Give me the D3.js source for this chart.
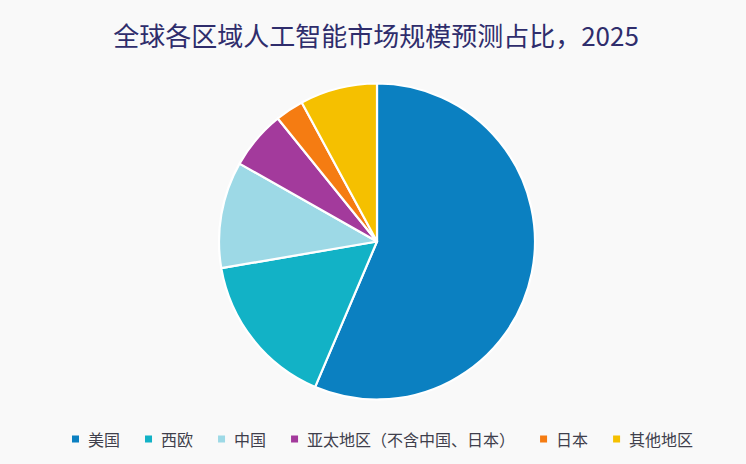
<!DOCTYPE html>
<html><head><meta charset="utf-8">
<script src="https://cdn.jsdelivr.net/npm/d3@7"></script>
<style>
html,body{margin:0;padding:0;background:#f9f9f9;}
svg{display:block;font-family:"Noto Sans CJK SC","Noto Sans",sans-serif;}
</style></head>
<body>
<svg id="c" width="746" height="464"></svg>
<script>
const title = "全球各区域人工智能市场规模预测占比，2025";
const categories = ["美国","西欧","中国","亚太地区（不含中国、日本）","日本","其他地区"];
const values = [56.4, 15.9, 10.9, 6.0, 2.9, 7.9];
const colors = ["#0b80c1","#12b2c6","#9dd9e6","#a33a9c","#f57c12","#f5c000"];

const svg = d3.select("#c");
const W = 746, H = 464;
svg.append("rect").attr("width",W).attr("height",H).attr("fill","#f9f9f9");

svg.append("text").attr("x",376).attr("y",46).attr("text-anchor","middle")
  .attr("font-size",26).attr("fill","#2f2d6c").text(title);

const data = categories.map((c,i)=>({cat:c, v:values[i], color:colors[i]}));
const pie = d3.pie().sort(null).value(d=>d.v);
const arc = d3.arc().innerRadius(0).outerRadius(158);
const g = svg.append("g").attr("transform","translate(377,241.5)");
g.selectAll("path").data(pie(data)).join("path")
  .attr("d",arc).attr("fill",d=>d.data.color)
  .attr("stroke","#ffffff").attr("stroke-width",2.2).attr("stroke-linejoin","round");

const leg = svg.append("g").attr("font-size",16);
let x = 72;
const ly = 439;
data.forEach(d=>{
  leg.append("rect").attr("x",x).attr("y",ly-3.5).attr("width",7).attr("height",7).attr("fill",d.color);
  const t = leg.append("text").attr("x",x+16).attr("y",ly).attr("dominant-baseline","central")
    .attr("fill","#3f3f4c").text(d.cat);
  x += 16 + t.node().getComputedTextLength() + 25;
});
</script>
</body></html>
